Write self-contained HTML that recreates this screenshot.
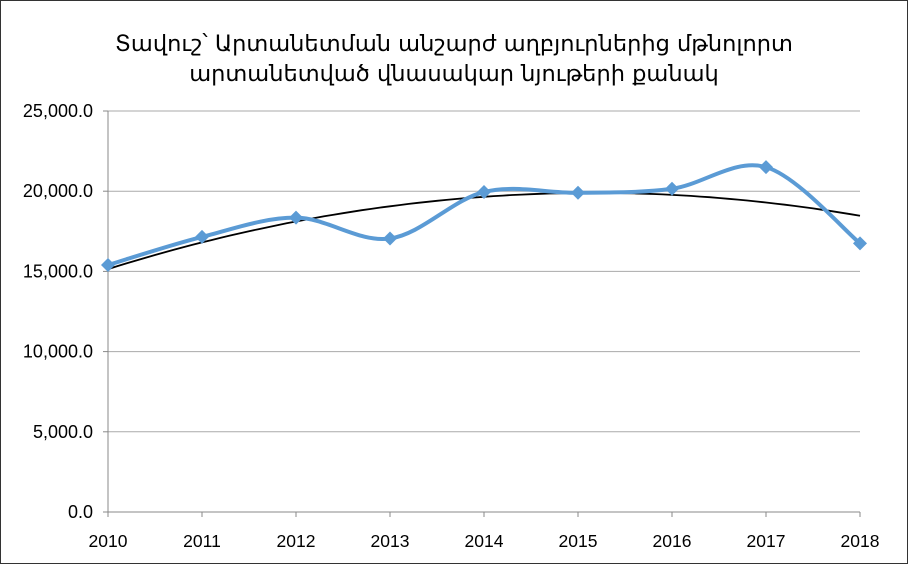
<!DOCTYPE html>
<html><head><meta charset="utf-8"><style>
body{margin:0;background:#fff;}
#c{position:relative;width:908px;height:564px;box-sizing:border-box;border:1px solid #333;}
svg text{font-family:"Liberation Sans","DejaVu Sans",sans-serif;}
</style></head><body>
<div id="c">
<svg id="s" width="906" height="562">
<text x="453" y="50" text-anchor="middle" font-size="22.5" fill="#000" style="font-family:'DejaVu Sans',sans-serif">Տավուշ՝ Արտանետման անշարժ աղբյուրներից մթնոլորտ</text>
<text x="453" y="80" text-anchor="middle" font-size="22.5" fill="#000" style="font-family:'DejaVu Sans',sans-serif">արտանետված վնասակար նյութերի քանակ</text>
<g id="grid"></g><g id="axes"></g><g id="series"></g>
</svg></div>
<script>
const years=[2010,2011,2012,2013,2014,2015,2016,2017,2018];
const values=[15400,17150,18350,17050,19950,19900,20150,21500,16750];
const yTicks=[0,5000,10000,15000,20000,25000];
const yTickLabels=["0.0","5,000.0","10,000.0","15,000.0","20,000.0","25,000.0"];
const NS="http://www.w3.org/2000/svg";
const x0=107,x1=859,y0=511,y1=110;
function X(i){return x0+(x1-x0)*i/(years.length-1);}
function Y(v){return y0-(y0-y1)*v/25000;}
function mk(t,a,p){const e=document.createElementNS(NS,t);for(const k in a)e.setAttribute(k,a[k]);p.appendChild(e);return e;}
const g=document.getElementById('grid'),ax=document.getElementById('axes'),se=document.getElementById('series');
yTicks.forEach((v,i)=>{
 const l=mk('line',{x1:x0,x2:x1,y1:Y(v),y2:Y(v),stroke:i==0?'#888':'#aaa','stroke-width':1},g);
 
 
 const t=mk('text',{x:x0-15,y:Y(v)+6,'text-anchor':'end','font-size':18},ax);t.textContent=yTickLabels[i];
 
 
 mk('line',{x1:x0-5,x2:x0,y1:Y(v),y2:Y(v),stroke:'#888'},ax);
});
mk('line',{x1:x0,x2:x0,y1:y1,y2:y0,stroke:'#888'},ax);
years.forEach((yr,i)=>{
 const t=mk('text',{x:X(i),y:y0+35,'text-anchor':'middle','font-size':17.5},ax);t.textContent=yr;
 
 
 mk('line',{x1:X(i),x2:X(i),y1:y0,y2:y0+5,stroke:'#888'},ax);
});
(function(){
 const n=values.length;let S=[0,0,0,0,0],T=[0,0,0];
 for(let i=0;i<n;i++){const x=i,y=values[i];for(let k=0;k<5;k++)S[k]+=Math.pow(x,k);for(let k=0;k<3;k++)T[k]+=y*Math.pow(x,k);}
 const M=[[S[0],S[1],S[2],T[0]],[S[1],S[2],S[3],T[1]],[S[2],S[3],S[4],T[2]]];
 for(let i=0;i<3;i++){for(let j=i+1;j<3;j++){const f=M[j][i]/M[i][i];for(let k=i;k<4;k++)M[j][k]-=f*M[i][k];}}
 const c=[0,0,0];for(let i=2;i>=0;i--){let s=M[i][3];for(let k=i+1;k<3;k++)s-=M[i][k]*c[k];c[i]=s/M[i][i];}
 let d='';for(let t=0;t<=80;t++){const x=t*(n-1)/80;const v=c[0]+c[1]*x+c[2]*x*x;d+=(t?'L':'M')+(x0+(x1-x0)*x/(n-1)).toFixed(1)+','+Y(v).toFixed(1);}
 const p=mk('path',{d:d,fill:'none',stroke:'#000','stroke-width':1.8},se);
 
 
})();
(function(){
 const P=values.map((v,i)=>[X(i),Y(v)]);let d='M'+P[0][0]+','+P[0][1];
 for(let i=0;i<P.length-1;i++){const p0=P[Math.max(0,i-1)],p1=P[i],p2=P[i+1],p3=P[Math.min(P.length-1,i+2)];
  const k=1/6;d+=' C'+(p1[0]+(p2[0]-p0[0])*k)+','+(p1[1]+(p2[1]-p0[1])*k)+' '+(p2[0]-(p3[0]-p1[0])*k)+','+(p2[1]-(p3[1]-p1[1])*k)+' '+p2[0]+','+p2[1];}
 const p=mk('path',{d:d,fill:'none',stroke:'#5b9bd5','stroke-width':4,'stroke-linejoin':'round'},se);
 
 
 P.forEach((q,i)=>{const m=mk('polygon',{points:`${q[0]},${q[1]-7} ${q[0]+7},${q[1]} ${q[0]},${q[1]+7} ${q[0]-7},${q[1]}`,fill:'#5b9bd5'},se);
  
  });
})();
</script></body></html>
